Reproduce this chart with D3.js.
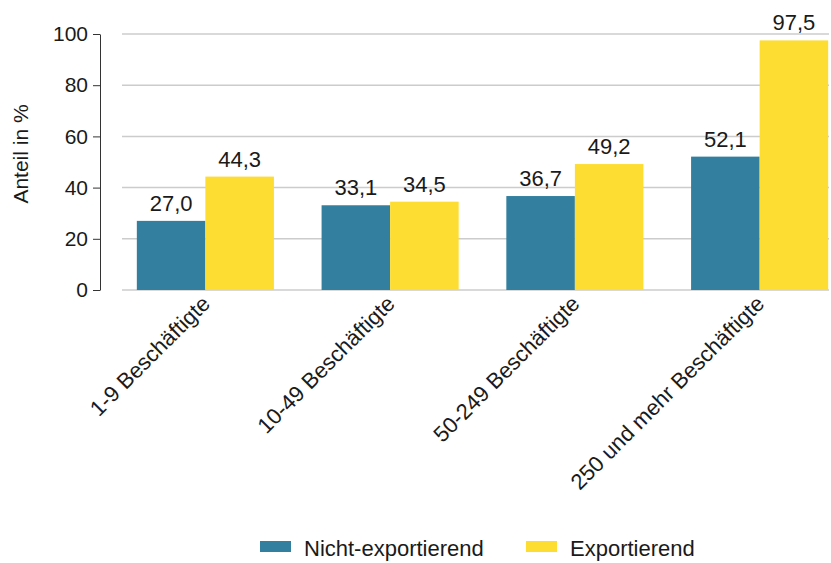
<!DOCTYPE html>
<html>
<head>
    <meta charset="utf-8">
    <title>Anteil Beschäftigte</title>
    <script src="https://cdn.jsdelivr.net/npm/d3@7"></script>
    <style>
        body { margin: 0; background: #fff; }
        text { font-family: "Liberation Sans", Arial, sans-serif; fill: #1a1a1a; }
    </style>
</head>
<body>
    <div id="chart"></div>
    <script>
        // data
        const categories = ["1-9 Beschäftigte", "10-49 Beschäftigte", "50-249 Beschäftigte", "250 und mehr Beschäftigte"];
        const nichtExport = [27.0, 33.1, 36.7, 52.1];
        const exportierend = [44.3, 34.5, 49.2, 97.5];
        const seriesNames = ["Nicht-exportierend", "Exportierend"];
        const yTicks = [0, 20, 40, 60, 80, 100];

        const colors = ["#327f9f", "#fedd33"];
        const W = 831, H = 563;
        const fmt = v => v.toFixed(1).replace(".", ",");

        const svg = d3.select("#chart").append("svg")
            .attr("width", W)
            .attr("height", H);

        const y = d3.scaleLinear().domain([0, 100]).range([290, 34]);

        const x = d3.scaleBand()
            .domain(categories)
            .range([113, 852])
            .paddingInner(0.258)
            .paddingOuter(0.129);

        const xs = d3.scaleBand()
            .domain(seriesNames)
            .range([0, x.bandwidth()]);

        // grid
        svg.append("g")
            .selectAll("line")
            .data(yTicks)
            .join("line")
            .attr("x1", 122).attr("x2", 829)
            .attr("y1", d => y(d)).attr("y2", d => y(d))
            .attr("stroke", "#cccccc")
            .attr("stroke-width", 1.5);

        // y axis
        const yAxis = svg.append("g")
            .attr("transform", "translate(100,0)")
            .call(d3.axisLeft(y).tickValues(yTicks).tickSize(7).tickPadding(5).tickSizeOuter(0));
        yAxis.select(".domain").attr("stroke", "#333");
        yAxis.selectAll(".tick line").attr("stroke", "#333");
        yAxis.selectAll("text")
            .attr("font-size", 21)
            .attr("fill", "#1a1a1a")
            .style("font-family", "Liberation Sans, Arial, sans-serif");

        svg.append("text")
            .attr("transform", "translate(28,154) rotate(-90)")
            .attr("text-anchor", "middle")
            .attr("font-size", 21)
            .text("Anteil in %");

        // bars
        const rows = categories.map((c, i) => ({ cat: c, vals: [nichtExport[i], exportierend[i]] }));
        const groups = svg.append("g")
            .selectAll("g")
            .data(rows)
            .join("g")
            .attr("transform", d => `translate(${x(d.cat)},0)`);

        groups.selectAll("rect")
            .data(d => d.vals.map((v, k) => ({ k, v })))
            .join("rect")
            .attr("x", d => xs(seriesNames[d.k]))
            .attr("y", d => y(d.v))
            .attr("width", xs.bandwidth())
            .attr("height", d => y(0) - y(d.v))
            .attr("fill", d => colors[d.k]);

        groups.selectAll("text")
            .data(d => d.vals.map((v, k) => ({ k, v })))
            .join("text")
            .attr("x", d => xs(seriesNames[d.k]) + xs.bandwidth() / 2)
            .attr("y", d => y(d.v) - 10)
            .attr("text-anchor", "middle")
            .attr("font-size", 22)
            .text(d => fmt(d.v));

        // x labels
        const xAxis = svg.append("g")
            .attr("transform", "translate(0,290)")
            .call(d3.axisBottom(x).tickSize(0).tickPadding(0));
        xAxis.select(".domain").remove();
        xAxis.selectAll("text")
            .attr("font-size", 22)
            .attr("fill", "#1a1a1a")
            .style("font-family", "Liberation Sans, Arial, sans-serif")
            .attr("text-anchor", "end")
            .attr("dy", null)
            .attr("y", null)
            .attr("transform", "translate(6,15) rotate(-45)");

        // legend
        const legendX = [260, 526];
        const legend = svg.append("g")
            .selectAll("g")
            .data(seriesNames)
            .join("g")
            .attr("transform", (d, i) => `translate(${legendX[i]},541)`);
        legend.append("rect")
            .attr("width", 31)
            .attr("height", 11)
            .attr("fill", (d, i) => colors[i]);
        legend.append("text")
            .attr("x", 44)
            .attr("y", 15)
            .attr("font-size", 22)
            .text(d => d);
    </script>
</body>
</html>
